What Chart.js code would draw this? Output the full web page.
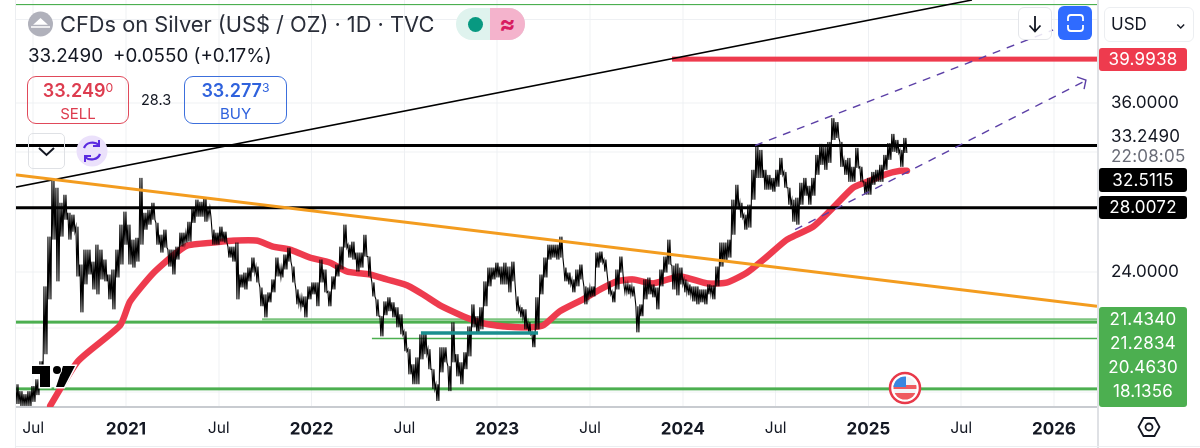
<!DOCTYPE html>
<html><head><meta charset="utf-8">
<script src="https://cdn.jsdelivr.net/npm/chart.js@4/dist/chart.umd.min.js"></script>
<style>
html,body{margin:0;padding:0;background:#fff;width:1200px;height:448px;overflow:hidden;font-family:Inter,"Noto Sans",sans-serif;color:#131722}
#wrap{position:relative;width:1200px;height:448px}
canvas{position:absolute;left:0;top:0}
.a{position:absolute;white-space:nowrap;box-sizing:border-box}
.tag{left:1099px;width:88px;text-align:center;color:#fff;font-size:17px;line-height:23px;height:23px;border-radius:3px;letter-spacing:.2px}
.px{left:1111px;font-size:17px;letter-spacing:.2px}
sup{font-size:.68em;vertical-align:baseline;position:relative;top:-.4em;font-weight:400}
</style></head><body><div id="wrap">
<canvas id="c" width="1200" height="448"></canvas>

<div class="a" style="left:15px;top:0;width:1px;height:448px;background:#eceef1"></div>
<div class="a" style="left:1097px;top:0;width:2px;height:448px;background:#dfe1e5"></div>
<div class="a" style="left:15px;top:446px;width:1185px;height:1px;background:#eceef1"></div>

<svg class="a" style="left:0;top:0" width="1200" height="448" viewBox="0 0 1200 448">
  <circle cx="40.500" cy="24" r="12.500" fill="#b0b1bb"/>
  <path d="M31 27h19M35 24l5.500-5 5.500 5z" fill="#fff" stroke="#fff" stroke-width="1.500"/>
  <path d="M32 366h18v21h-10v-13h-8z M63 366h12l-11 21h-8z" fill="#000" stroke="#fff" stroke-width="3" paint-order="stroke"/>
  <circle cx="57" cy="370" r="4" fill="#000" stroke="#fff" stroke-width="2" paint-order="stroke"/>
  <circle cx="905" cy="388" r="15" fill="#fff" stroke="#e8394a" stroke-width="2.500"/>
  <clipPath id="fl"><circle cx="905" cy="388" r="11.500"/></clipPath>
  <g clip-path="url(#fl)">
    <rect x="893" y="376" width="24" height="24" fill="#f3f4f6"/>
    <rect x="893" y="385" width="24" height="4" fill="#ef5a5f"/>
    <rect x="893" y="393" width="24" height="8" fill="#ef5a5f"/>
    <rect x="893" y="376" width="13" height="11" fill="#3a86e0"/>
  </g>
  <circle cx="92" cy="151" r="15.500" fill="#ebe1fb"/>
  <path d="M84 148a9 8 0 0 1 15-3M100 154a9 8 0 0 1-15 3" fill="none" stroke="#5b2be0" stroke-width="2.200"/>
  <path d="M99 140v6h-6M85 162v-6h6" fill="none" stroke="#5b2be0" stroke-width="2"/>
  <path d="M39 148l7.500 7 7.500-7" fill="none" stroke="#131722" stroke-width="2"/>
  <path d="M1138.500 427l5-9h11l5 9-5 9h-11z" fill="none" stroke="#131722" stroke-width="1.800"/>
  <circle cx="1149" cy="427" r="3.500" fill="none" stroke="#131722" stroke-width="1.800"/>
</svg>

<div class="a" style="left:60px;top:10px;font-size:21.800px;line-height:28px;color:#2a2e39">CFDs on Silver (US$ / OZ) · 1D · TVC</div>
<div class="a" style="left:456px;top:8px;width:69px;height:32px;border-radius:16px;overflow:hidden;background:#dff3ee">
  <div class="a" style="left:12px;top:9px;width:15px;height:15px;border-radius:50%;background:#089981"></div>
  <div class="a" style="left:34px;top:0;width:35px;height:32px;background:#f4b3cc;color:#d81b60;font-size:24px;line-height:31px;text-align:center;font-weight:700">≈</div>
</div>
<div class="a" style="left:28px;top:44px;font-size:18.800px;line-height:24px;color:#131722">33.2490<span style="margin-left:10px">+0.0550 (+0.17%)</span></div>

<div class="a" style="left:27px;top:76px;width:102px;height:48px;border:1.500px solid #e0495a;border-radius:9px;text-align:center;color:#dd3c4f">
  <div style="font-size:18px;line-height:22px;margin-top:3px;font-weight:600">33.249<sup>0</sup></div>
  <div style="font-size:15px;line-height:19px">SELL</div></div>
<div class="a" style="left:141px;top:91px;font-size:14.500px;line-height:18px">28.3</div>
<div class="a" style="left:184px;top:76px;width:103px;height:48px;border:1.500px solid #3c6fdc;border-radius:9px;text-align:center;color:#2f62dd">
  <div style="font-size:18px;line-height:22px;margin-top:3px;font-weight:600">33.277<sup>3</sup></div>
  <div style="font-size:15px;line-height:19px">BUY</div></div>
<div class="a" style="left:28px;top:133px;width:37px;height:36px;border:1.500px solid #dfe1e5;border-radius:5px"></div>

<div class="a" style="left:1018px;top:7px;width:34px;height:33px;border:1.500px solid #e4e6ea;border-radius:6px;background:rgba(255,255,255,.85)"></div>
<div class="a" style="left:1058px;top:6px;width:34px;height:34px;background:#2f6bff;border-radius:6px"></div>
<svg class="a" style="left:0;top:0;pointer-events:none" width="1200" height="60">
  <path d="M1035 16v15M1029.500 25.500l5.500 6 5.500-6" fill="none" stroke="#131722" stroke-width="1.800"/>
  <path d="M1068 21v-3a3 3 0 0 1 3-3h9a3 3 0 0 1 3 3v3M1068 25v3a3 3 0 0 0 3 3h9a3 3 0 0 0 3-3v-3" fill="none" stroke="#fff" stroke-width="1.800"/>
</svg>
<div class="a" style="left:1104px;top:7px;width:90px;height:35px;border:1.500px solid #eceef1;border-radius:6px;font-size:17px;line-height:32px;padding-left:6px">USD<span style="position:absolute;right:7px;top:0;font-size:13px;font-weight:700">⌄</span></div>

<div class="a tag" style="top:48px;background:#ee3b4e">39.9938</div>
<div class="a px" style="top:125px;line-height:22px">33.2490</div>
<div class="a px" style="top:145px;line-height:22px;color:#6a6d78;left:1111px">22:08:05</div>
<div class="a tag" style="top:168px;background:#000;height:24px;line-height:24px">32.5115</div>
<div class="a tag" style="top:196px;background:#000;line-height:23px">28.0072</div>
<div class="a" style="left:1099px;top:307px;width:88px;height:100px;background:#4caf50;border-radius:3px"></div>
<div class="a tag" style="top:308px">21.4340</div>
<div class="a tag" style="top:332px">21.2834</div>
<div class="a tag" style="top:356px">20.4630</div>
<div class="a tag" style="top:380px">18.1356</div>
</div>
<script>
// One high/low pair per sample, roughly every eight days from mid-2020.
const firstSampleYear = 2020.407, sampleStepYears = 0.02155;
const priceHighs = [18.34,18.04,17.91,18.04,18.26,18.56,19.38,23.19,26.13,29.94,29.38,28.34,28.89,27.67,27.54,26.76,24.44,25.33,25.33,24.61,25.63,25.33,24.73,23.86,24.15,25.33,26.89,27.74,26.89,25.94,26.06,30.08,27.67,27.87,28.34,27.01,26.25,26.57,25.33,25.33,25.51,26.38,26.38,27.08,28.08,28.55,28.41,28.75,28.00,26.57,26.38,26.76,26.44,25.51,25.51,25.76,23.86,23.97,24.26,24.85,24.32,23.13,22.75,22.86,23.58,24.85,24.26,25.03,25.45,24.32,23.02,22.59,22.64,23.19,23.41,23.41,24.73,24.15,22.91,23.75,24.44,25.51,26.89,25.63,25.82,25.15,25.15,26.25,24.91,23.41,22.48,21.59,22.37,22.59,22.32,22.06,21.69,20.82,19.95,19.24,19.56,20.67,20.77,19.95,19.01,18.34,20.04,20.04,19.15,21.28,19.71,19.33,19.80,21.07,22.21,21.59,22.06,23.47,24.26,24.26,24.55,24.32,24.55,24.32,24.61,22.64,22.06,21.95,21.28,20.77,22.59,23.86,24.85,25.63,25.63,25.63,26.13,24.26,23.97,23.58,24.15,24.44,23.19,23.13,23.19,25.15,25.21,24.73,23.47,22.91,24.15,24.91,23.30,23.30,23.19,22.11,22.21,23.58,23.69,23.30,23.13,24.15,24.91,25.94,24.38,24.50,24.26,23.58,23.30,23.19,23.19,23.02,23.02,23.30,23.25,24.32,25.76,25.76,25.94,28.55,29.59,28.34,27.54,28.21,30.67,32.40,32.17,30.67,30.30,30.08,30.67,31.56,30.52,29.38,28.55,28.69,29.73,30.08,29.52,30.08,31.79,32.64,32.40,32.79,34.72,34.40,32.79,31.41,31.56,30.89,32.33,30.89,29.80,30.08,30.52,30.67,31.04,31.79,32.71,33.43,32.95,32.17,33.11];
const priceLows = [17.49,17.41,17.41,17.41,17.58,17.87,18.56,19.71,22.48,25.94,23.47,26.13,27.21,25.94,26.44,23.75,21.79,23.30,23.86,23.02,22.75,23.58,23.47,22.48,21.95,23.69,24.44,25.63,24.44,24.26,24.61,25.63,26.57,26.89,27.21,25.63,25.15,25.45,24.32,23.86,24.73,25.51,25.76,25.82,27.01,27.41,27.41,27.08,27.41,25.63,25.63,25.82,25.76,24.85,24.61,22.48,23.13,23.02,23.47,23.97,23.41,22.11,21.53,22.32,22.86,23.75,23.69,24.15,24.61,23.41,22.21,22.06,21.53,22.48,22.75,22.11,23.41,22.86,22.11,23.02,23.75,24.15,25.45,24.85,24.73,24.03,24.26,24.91,23.75,22.64,21.59,20.57,21.64,21.85,21.53,21.02,20.67,19.85,18.78,18.34,18.34,19.47,19.71,19.01,18.13,17.62,18.87,19.33,18.04,19.33,18.69,18.34,19.01,19.61,21.02,20.67,20.92,22.11,23.19,23.58,23.69,23.30,23.30,22.86,23.47,21.85,21.53,20.92,20.67,20.04,20.92,22.75,23.69,24.73,24.85,24.73,24.85,23.47,23.30,22.86,23.19,23.58,22.21,22.59,22.64,24.26,24.55,24.03,22.75,22.32,23.02,23.97,22.86,22.75,22.64,20.77,21.59,22.48,22.75,22.59,21.95,23.19,23.97,24.44,23.02,22.70,23.30,22.86,22.70,22.37,22.21,22.32,22.21,22.75,22.48,23.19,24.32,24.61,24.85,26.25,27.87,27.34,26.57,26.70,28.55,30.08,30.08,29.24,29.24,29.10,29.45,30.30,29.38,28.21,27.08,26.89,28.21,28.82,28.21,28.82,30.30,31.04,30.67,31.19,32.95,33.11,30.89,30.30,29.80,29.80,30.82,29.80,28.89,28.89,29.59,29.80,29.80,30.67,31.41,32.02,31.94,30.89,31.94];
const maYears = [2020.591,2020.741,2020.968,2021.022,2021.145,2021.253,2021.329,2021.469,2021.577,2021.706,2021.792,2021.884,2021.991,2022.099,2022.191,2022.315,2022.406,2022.514,2022.600,2022.692,2022.816,2022.923,2023.031,2023.161,2023.247,2023.338,2023.462,2023.554,2023.645,2023.732,2023.839,2023.985,2024.130,2024.238,2024.346,2024.454,2024.561,2024.702,2024.809,2024.917,2024.992,2025.100,2025.170,2025.208];
const maValues = [17.41,19.38,21.12,22.37,23.92,24.97,25.57,25.76,25.88,25.88,25.51,25.33,24.85,24.55,24.03,23.86,23.58,23.25,22.75,22.16,21.59,21.23,21.07,21.02,21.12,21.85,22.48,23.02,23.47,23.58,23.36,23.75,23.36,23.41,23.97,24.91,25.94,26.76,28.00,29.38,29.80,30.37,30.60,30.60];

// Axes
const xMinYear = 2020.4073, xMaxYear = 2026.2317;
const yMinPrice = 17.365, yMaxPrice = 46.09;
const xTickValues = [2020.5,2021,2021.5,2022,2022.5,2023,2023.5,2024,2024.5,2025,2025.5,2026];
const xTickLabels = ['Jul','2021','Jul','2022','Jul','2023','Jul','2024','Jul','2025','Jul','2026'];
const yGridPrices = [18,21,24,28,32,36,44];
const yTickLabels = ['','','24.0000','','','36.0000',''];

// Drawings on the chart
const blackTrendYears = [2020.407,2025.558], blackTrendPrices = [29.43,46.09];
const orangeTrendYears = [2020.407,2026.2317], orangeTrendPrices = [30.30,22.11];
const upperChannelYears = [2024.389,2025.995], upperChannelPrices = [32.51,42.89];
const lowerChannelYears = [2024.605,2026.156], lowerChannelPrices = [26.57,37.86];
const arrowYears = [2026.124,2026.172,2026.162], arrowPrices = [38.32,38.04,37.22];
const redLevelYears = [2023.942,2026.2317], redLevelPrices = [39.9938,39.9938];
const blackLevelOne = [32.5115,32.5115], blackLevelTwo = [28.0072,28.0072];
const fullSpanYears = [2020.407,2026.2317];
const greenTopPrices = [45.59,45.59];
const greenLevelA = [21.434,21.434], greenLevelAYears = [2021.733,2026.2317];
const greenLevelB = [21.2834,21.2834];
const greenLevelC = [20.463,20.463], greenLevelCYears = [2022.325,2026.2317];
const greenLevelD = [18.1356,18.1356];
const tealYears = [2022.589,2023.220], tealPrices = [20.74,20.74];

const pts = (xs, ys) => xs.map((x, i) => ({x, y: ys[i]}));
const priceTrace = [];
priceHighs.forEach((hi, i) => {
  const x = firstSampleYear + i * sampleStepYears;
  const lo = priceLows[i];
  priceTrace.push({x, y: hi}, {x: x + sampleStepYears / 4, y: lo},
                  {x: x + sampleStepYears / 2, y: hi}, {x: x + sampleStepYears * 3 / 4, y: lo});
});
const line = (data, color, width, order, extra) => Object.assign({
  type: 'line', data, borderColor: color, borderWidth: width, pointRadius: 0, tension: 0, fill: false, order
}, extra || {});

new Chart(document.getElementById('c'), {
  type: 'line',
  data: { datasets: [
    line(pts(tealYears, tealPrices), '#1a8f8f', 3.5, 0),
    line(pts(upperChannelYears, upperChannelPrices), '#5b3fa6', 1.4, 1, {borderDash: [8, 7]}),
    line(pts(lowerChannelYears, lowerChannelPrices), '#5b3fa6', 1.4, 1, {borderDash: [8, 7]}),
    line(pts(arrowYears, arrowPrices), '#5b3fa6', 1.4, 1),
    line(pts(orangeTrendYears, orangeTrendPrices), '#f39c1f', 3, 2),
    line(pts(blackTrendYears, blackTrendPrices), '#000', 1.6, 2),
    line(pts(fullSpanYears, blackLevelOne), '#000', 3, 2),
    line(pts(fullSpanYears, blackLevelTwo), '#000', 3, 2),
    line(pts(redLevelYears, redLevelPrices), '#ee3b4e', 5, 2),
    line(priceTrace, '#000', 1.1, 3),
    line(pts(maYears, maValues), '#ee3b4e', 6.5, 4, {tension: 0.2, borderCapStyle: 'round'}),
    line(pts(fullSpanYears, greenLevelB), '#4caf50', 3, 5),
    line(pts(greenLevelAYears, greenLevelA), '#7cc47f', 2, 5),
    line(pts(greenLevelCYears, greenLevelC), '#4caf50', 1.5, 5),
    line(pts(fullSpanYears, greenLevelD), '#4caf50', 3, 5),
    line(pts(fullSpanYears, greenTopPrices), '#4caf50', 1.2, 5)
  ]},
  options: {
    responsive: false, animation: false, devicePixelRatio: 2,
    layout: {autoPadding: false, padding: {left: 16, right: 0, top: 0, bottom: 0}},
    plugins: {legend: {display: false}, tooltip: {enabled: false}},
    scales: {
      x: {
        type: 'linear', min: xMinYear, max: xMaxYear,
        afterBuildTicks: s => { s.ticks = xTickValues.map(value => ({value})); },
        afterFit: s => { s.height = 41; s.paddingLeft = 0; s.paddingRight = 0; s.paddingTop = 0; s.paddingBottom = 0; },
        grid: {color: '#eef0f3', drawTicks: false},
        border: {color: '#c8cbd0', width: 2},
        ticks: {
          autoSkip: false, maxRotation: 0, padding: 12, color: '#131722',
          callback: (v) => xTickLabels[xTickValues.indexOf(v)],
          font: ctx => (ctx.tick && Number.isInteger(ctx.tick.value)
            ? {family: 'Inter', size: 17, weight: '700'}
            : {family: 'Inter', size: 15.5, weight: '400'})
        }
      },
      y: {
        type: 'logarithmic', position: 'right', min: yMinPrice, max: yMaxPrice,
        afterBuildTicks: s => { s.ticks = yGridPrices.map(value => ({value})); },
        afterFit: s => { s.width = 103; s.paddingTop = 0; s.paddingBottom = 0; s.paddingLeft = 0; s.paddingRight = 0; },
        grid: {color: '#eef0f3', drawTicks: false},
        border: {display: false},
        ticks: {
          autoSkip: false, padding: 14, color: '#131722', font: {family: 'Inter', size: 17},
          callback: (v) => yTickLabels[yGridPrices.indexOf(v)]
        }
      }
    }
  }
});
</script></body></html>
